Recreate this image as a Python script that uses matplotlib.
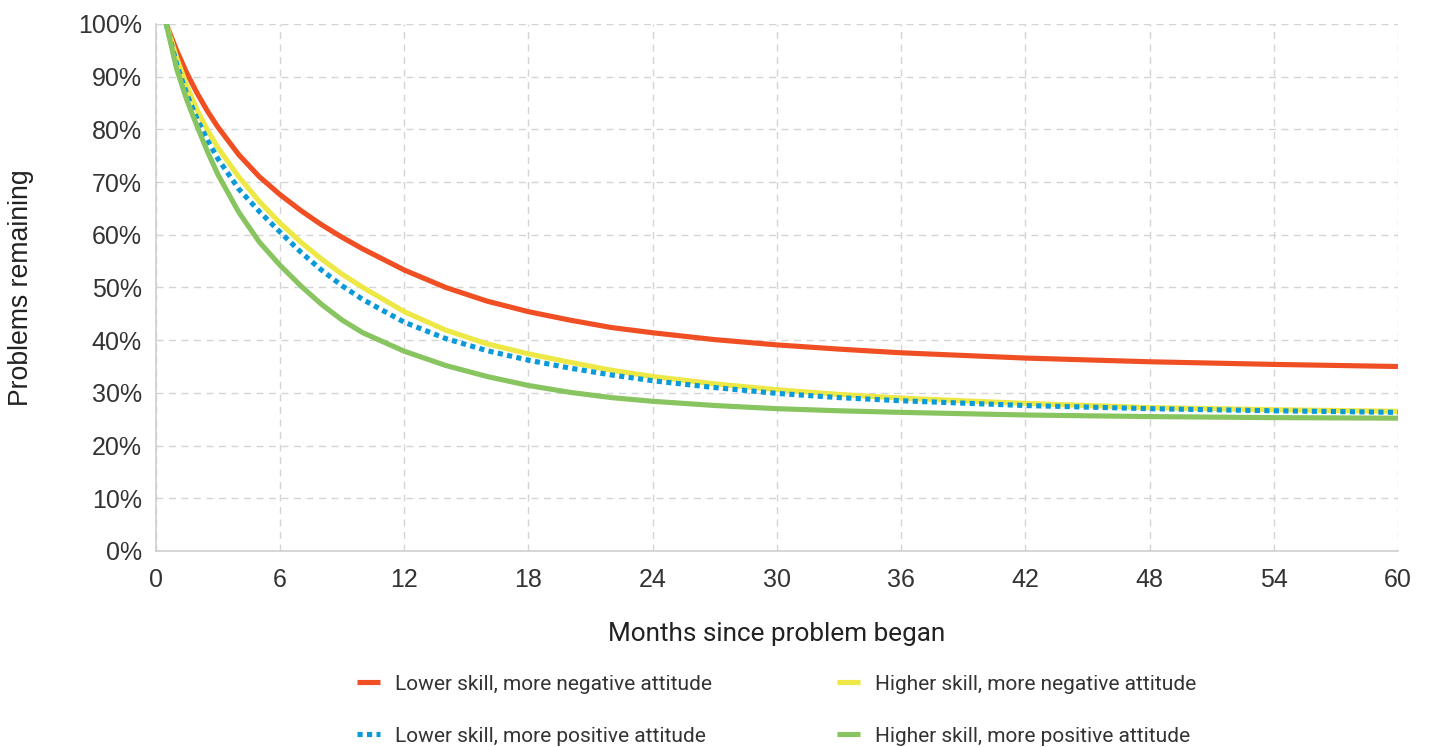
import matplotlib.pyplot as plt
from matplotlib.ticker import FuncFormatter

# ==========================
# Data (share of problems still unresolved, %)
# ==========================

months = [0.5, 1, 1.5, 2, 2.5, 3, 4, 5, 6, 7, 8, 9, 10, 12, 14, 16, 18, 20,
          22, 24, 27, 30, 33, 36, 42, 48, 54, 60]

lower_negative = [100, 95.0, 90.6, 86.8, 83.4, 80.4, 75.2, 71.0, 67.6, 64.6,
                  61.9, 59.5, 57.3, 53.3, 50.0, 47.4, 45.4, 43.8, 42.4, 41.4,
                  40.1, 39.1, 38.3, 37.6, 36.6, 35.9, 35.4, 35.0]

higher_negative = [100, 93.6, 88.2, 83.6, 79.8, 76.5, 71.0, 66.3, 62.2, 58.6,
                   55.4, 52.5, 50.0, 45.4, 41.9, 39.3, 37.4, 35.8, 34.3, 33.1,
                   31.7, 30.6, 29.7, 29.0, 28.0, 27.2, 26.8, 26.5]

lower_positive = [100, 92.4, 86.6, 81.9, 77.9, 74.4, 68.7, 64.4, 60.5, 56.7,
                  53.3, 50.3, 47.7, 43.4, 40.3, 38.0, 36.2, 34.7, 33.4, 32.3,
                  31.0, 29.9, 29.1, 28.5, 27.6, 27.0, 26.6, 26.3]

higher_positive = [100, 91.5, 85.5, 80.5, 75.7, 71.4, 64.3, 58.6, 54.2, 50.3,
                   46.8, 43.8, 41.4, 37.9, 35.2, 33.1, 31.4, 30.1, 29.1, 28.4,
                   27.6, 27.0, 26.6, 26.3, 25.8, 25.5, 25.3, 25.2]

x_ticks = list(range(0, 61, 6))
y_ticks = list(range(0, 101, 10))


# ==========================
# Figure
# ==========================

plt.rcParams["font.family"] = ["Liberation Sans", "DejaVu Sans"]

fig = plt.figure(figsize=(14.3, 7.47), dpi=100)
ax = fig.add_axes([0.109, 0.2624, 0.8686, 0.7056])

red_line, = ax.plot(months, lower_negative, color="#F04E23", lw=3.7,
                    solid_capstyle="butt", zorder=3)
yellow_line, = ax.plot(months, higher_negative, color="#EDE845", lw=3.7,
                       solid_capstyle="butt", zorder=4)
blue_line, = ax.plot(months, lower_positive, color="#0A9AD9", lw=3.7,
                     linestyle=(0, (1, 0.85)), dash_capstyle="butt", zorder=5)
green_line, = ax.plot(months, higher_positive, color="#88C45F", lw=3.7,
                      solid_capstyle="butt", zorder=6)


# Axes styling
ax.set_xlim(0, 60)
ax.set_ylim(0, 100)
ax.set_xticks(x_ticks)
ax.set_yticks(y_ticks)
ax.yaxis.set_major_formatter(FuncFormatter(lambda v, p: f"{v:.0f}%"))

ax.grid(True, color="#d4d4d4", linestyle=(0, (5, 4)), lw=1.0, zorder=0)
ax.set_axisbelow(True)

for side in ["top", "right"]:
    ax.spines[side].set_visible(False)
for side in ["left", "bottom"]:
    ax.spines[side].set_color("#cfcfcf")
    ax.spines[side].set_linewidth(1.2)

ax.tick_params(length=0, labelsize=18, colors="#333333")
ax.tick_params(axis="x", pad=12)
ax.tick_params(axis="y", pad=10)

ax.set_xlabel("Months since problem began", fontsize=18.8, color="#222222",
              family=["Roboto", "DejaVu Sans"], labelpad=21.5)
ax.set_ylabel("Problems remaining", fontsize=19.2, color="#222222",
              labelpad=32)


# ==========================
# Legend
# ==========================

fig.legend(
    [red_line, blue_line, yellow_line, green_line],
    ["Lower skill, more negative attitude",
     "Lower skill, more positive attitude",
     "Higher skill, more negative attitude",
     "Higher skill, more positive attitude"],
    ncol=2,
    loc="upper left",
    bbox_to_anchor=(0.2438, 0.108),
    frameon=False,
    prop={"family": ["Roboto", "DejaVu Sans"], "size": 15},
    labelcolor="#333333",
    handlelength=1.1,
    handletextpad=0.72,
    columnspacing=6.0,
    labelspacing=1.58,
    borderaxespad=0,
)

fig.savefig("out.png", dpi=100, facecolor="white")
